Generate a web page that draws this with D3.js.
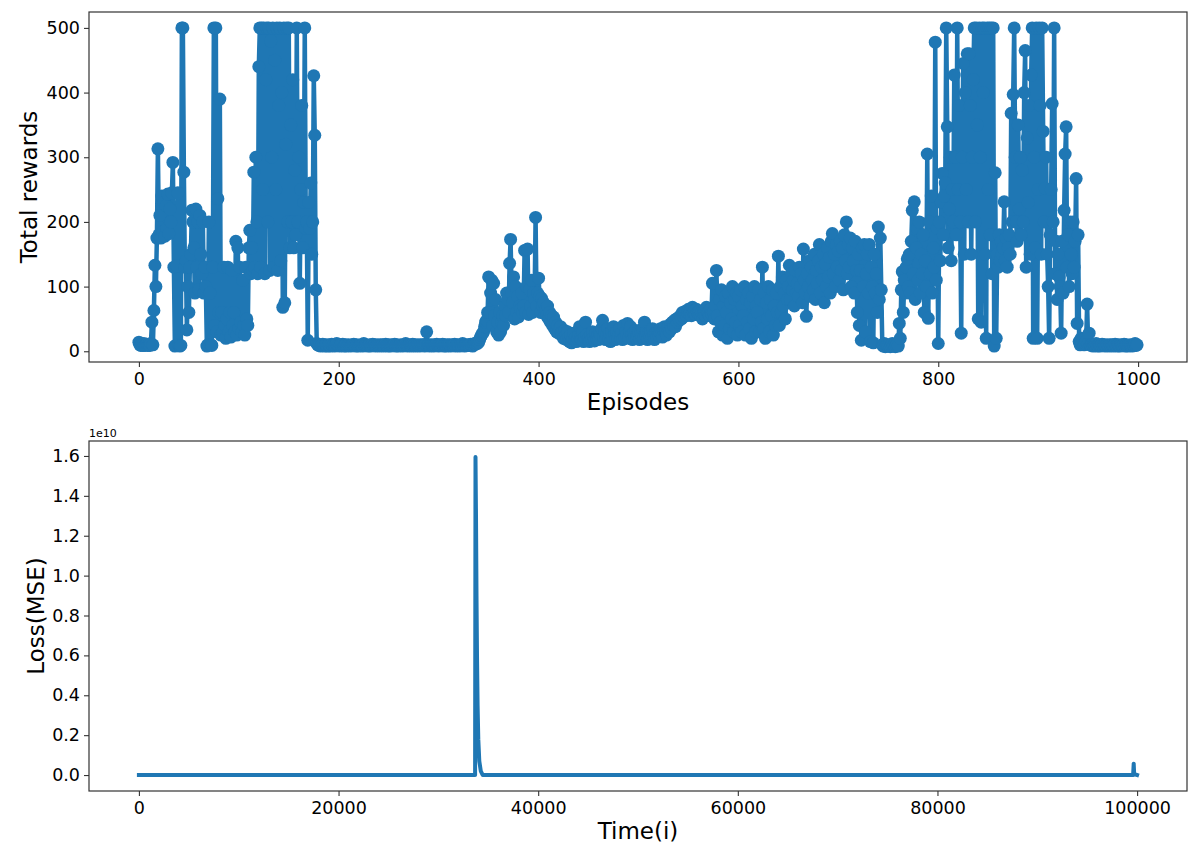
<!DOCTYPE html>
<html>
<head>
<meta charset="utf-8">
<script src="https://cdn.jsdelivr.net/npm/d3@7"></script>
<style>
  body { margin: 0; background: #fff; }
  svg { display: block; }
  text { font-family: "DejaVu Sans", sans-serif; fill: #000; }
</style>
</head>
<body>
<svg id="chart" width="1200" height="857"></svg>
<script>
// total reward per episode (index = episode)
var rewards = [
  // 0-99
  14, 10, 9, 11, 9, 12, 9, 10, 11, 9,
  10, 9, 12, 45, 10, 63, 133, 100, 175, 313,
  180, 210, 175, 240, 185, 230, 178, 225, 190, 243,
  182, 220, 200, 245, 292, 130, 8, 9, 132, 245,
  10, 8, 9, 500, 500, 277, 130, 140, 33, 100,
  60, 130, 150, 218, 200, 160, 90, 220, 130, 200,
  95, 210, 150, 120, 200, 90, 130, 100, 8, 10,
  200, 90, 10, 9, 130, 500, 40, 500, 30, 236,
  60, 390, 25, 60, 30, 130, 40, 20, 50, 130,
  30, 60, 22, 125, 40, 60, 30, 170, 25, 160,
  // 100-199
  35, 130, 45, 30, 110, 40, 25, 130, 50, 40,
  160, 187, 120, 160, 125, 277, 130, 300, 200, 120,
  440, 500, 130, 500, 250, 500, 120, 420, 500, 200,
  500, 125, 480, 300, 500, 130, 450, 250, 500, 125,
  380, 500, 140, 400, 68, 500, 75, 320, 500, 200,
  500, 160, 350, 200, 420, 160, 280, 180, 500, 200,
  300, 105, 250, 380, 160, 230, 500, 190, 200, 17,
  230, 190, 260, 150, 200, 426, 334, 95, 12, 10,
  9, 10, 8, 9, 11, 9, 8, 10, 9, 8,
  10, 9, 8, 11, 9, 10, 8, 9, 12, 9,
  // 200-299
  9, 8, 10, 9, 11, 8, 9, 10, 8, 9,
  10, 9, 8, 9, 10, 11, 9, 8, 10, 9,
  8, 9, 10, 9, 8, 12, 9, 10, 9, 8,
  9, 10, 8, 9, 11, 9, 10, 8, 9, 10,
  9, 8, 10, 9, 10, 8, 9, 11, 9, 8,
  10, 9, 8, 10, 9, 9, 11, 8, 10, 9,
  8, 9, 10, 9, 8, 10, 9, 12, 9, 8,
  9, 10, 9, 8, 11, 9, 10, 8, 9, 10,
  9, 8, 10, 9, 10, 9, 8, 11, 30, 9,
  10, 8, 9, 10, 9, 8, 10, 9, 11, 9,
  // 300-399
  8, 10, 9, 9, 11, 8, 10, 9, 8, 10,
  9, 10, 8, 9, 10, 9, 11, 8, 9, 10,
  9, 8, 10, 9, 12, 9, 8, 10, 9, 9,
  10, 9, 11, 9, 8, 10, 12, 11, 13, 12,
  14, 18, 22, 25, 28, 30, 38, 45, 48, 60,
  115, 60, 90, 110, 40, 105, 55, 80, 30, 45,
  25, 60, 30, 45, 55, 40, 70, 55, 90, 80,
  60, 136, 173, 90, 75, 115, 50, 100, 60, 85,
  53, 70, 65, 90, 60, 70, 156, 60, 100, 158,
  57, 95, 70, 110, 60, 90, 80, 207, 70, 90,
  // 400-499
  113, 85, 60, 82, 70, 75, 60, 65, 55, 70,
  50, 60, 45, 55, 40, 53, 35, 45, 30, 40,
  28, 35, 38, 25, 30, 20, 32, 24, 18, 30,
  22, 15, 25, 13, 20, 28, 18, 22, 15, 20,
  25, 38, 20, 18, 30, 15, 22, 45, 25, 18,
  20, 15, 25, 18, 30, 22, 16, 28, 20, 24,
  18, 30, 25, 35, 48, 22, 30, 18, 25, 35,
  20, 28, 15, 30, 22, 38, 25, 18, 30, 20,
  25, 35, 20, 28, 18, 40, 22, 30, 25, 43,
  20, 30, 38, 25, 18, 28, 22, 32, 20, 25,
  // 500-599
  30, 18, 28, 22, 35, 20, 45, 25, 30, 18,
  28, 22, 30, 20, 35, 25, 18, 28, 22, 30,
  25, 30, 35, 28, 22, 32, 38, 30, 25, 35,
  38, 30, 42, 35, 45, 40, 48, 38, 50, 45,
  52, 48, 55, 50, 60, 53, 58, 62, 55, 60,
  65, 58, 62, 55, 68, 60, 63, 57, 65, 60,
  58, 62, 55, 60, 50, 58, 62, 55, 68, 60,
  60, 55, 65, 58, 105, 60, 50, 70, 125, 55,
  30, 80, 45, 95, 25, 70, 40, 85, 60, 20,
  90, 35, 75, 50, 100, 30, 80, 45, 90, 25,
  // 600-699
  85, 40, 95, 30, 70, 55, 100, 25, 80, 45,
  90, 35, 75, 20, 85, 50, 100, 30, 70, 60,
  95, 30, 80, 45, 130, 35, 90, 20, 75, 50,
  100, 30, 80, 55, 95, 25, 70, 40, 90, 60,
  147, 40, 100, 60, 115, 70, 90, 50, 110, 80,
  100, 133, 80, 120, 95, 110, 70, 125, 90, 105,
  85, 130, 100, 120, 75, 158, 110, 90, 54, 120,
  100, 140, 85, 130, 110, 95, 150, 80, 125, 105,
  140, 165, 90, 130, 110, 150, 75, 135, 100, 160,
  115, 145, 90, 170, 182, 120, 150, 100, 165, 130,
  // 700-799
  155, 110, 170, 125, 160, 95, 180, 140, 200, 120,
  165, 130, 175, 100, 160, 140, 90, 170, 125, 60,
  150, 40, 125, 17, 160, 100, 165, 30, 120, 150,
  90, 165, 15, 130, 100, 13, 150, 90, 120, 60,
  192, 80, 175, 95, 10, 8, 12, 7, 10, 9,
  8, 10, 7, 9, 12, 8, 10, 7, 9, 11,
  8, 43, 20, 95, 123, 60, 110, 90, 130, 143,
  100, 150, 90, 170, 218, 120, 231, 80, 160, 190,
  110, 200, 90, 150, 120, 180, 60, 140, 100, 305,
  51, 200, 120, 240, 90, 160, 130, 478, 110, 190,
  // 800-899
  12, 200, 140, 230, 275, 180, 240, 260, 500, 347,
  160, 220, 300, 140, 250, 200, 427, 300, 180, 500,
  250, 380, 200, 28, 300, 445, 150, 400, 250, 460,
  200, 460, 380, 150, 300, 420, 500, 200, 500, 350,
  50, 500, 300, 45, 500, 400, 500, 150, 20, 500,
  250, 500, 180, 500, 120, 500, 8, 276, 20, 150,
  130, 180, 140, 170, 150, 160, 231, 140, 175, 130,
  160, 180, 150, 368, 200, 397, 500, 300, 200, 170,
  350, 220, 300, 180, 280, 200, 400, 465, 130, 330,
  230, 380, 150, 427, 500, 20, 300, 160, 500, 20,
  // 900-999
  250, 500, 380, 150, 500, 340, 200, 252, 300, 150,
  100, 20, 180, 250, 383, 200, 500, 120, 170, 80,
  150, 115, 100, 28, 170, 90, 218, 305, 347, 130,
  180, 100, 200, 150, 120, 200, 130, 170, 267, 43,
  180, 15, 10, 20, 12, 18, 10, 12, 15, 73,
  12, 28, 10, 9, 11, 8, 10, 9, 12, 8,
  9, 10, 8, 9, 11, 9, 10, 8, 9, 10,
  9, 8, 10, 9, 10, 8, 9, 11, 9, 8,
  10, 9, 8, 10, 9, 9, 11, 8, 10, 9,
  8, 9, 10, 9, 8, 10, 9, 12, 9, 10
]
var episodeTicks = [0, 200, 400, 600, 800, 1000]
var rewardTicks = [0, 100, 200, 300, 400, 500]

// loss over training steps, key points of the trace (flat zero elsewhere)
var lossTime = [0, 33680, 33720, 33770, 33820, 33870, 33930, 34000, 34100, 34250, 34450, 99600, 99660, 99700, 99760, 99999]
var lossValue = [0, 0, 1.595e10, 1.3e10, 0.9e10, 0.6e10, 0.35e10, 0.18e10, 0.07e10, 0.02e10, 0, 0, 0.057e10, 0.012e10, 0.004e10, 0]
var timeTicks = [0, 20000, 40000, 60000, 80000, 100000]
var lossTicks = [0, 0.2e10, 0.4e10, 0.6e10, 0.8e10, 1.0e10, 1.2e10, 1.4e10, 1.6e10]

var blue = '#1f77b4'
var svg = d3.select('#chart')

var left = 89, right = 1187
var top1 = 12, bottom1 = 362
var top2 = 441, bottom2 = 791

// top panel
var x1 = d3.scaleLinear().domain([-49.95, 1048.95]).range([left, right])
var y1 = d3.scaleLinear().domain([-16.6, 524.6]).range([bottom1, top1])

// bottom panel
var x2 = d3.scaleLinear().domain([-4999.95, 104998.95]).range([left, right])
var y2 = d3.scaleLinear().domain([-0.08e10, 1.675e10]).range([bottom2, top2])

function styleAxis(g) {
  g.select('.domain').remove()
  g.selectAll('.tick line').attr('stroke', '#333').attr('stroke-width', 1.1)
  g.selectAll('.tick text')
   .attr('font-family', '"DejaVu Sans", sans-serif')
   .attr('font-size', 17.5)
   .attr('fill', '#000')
}

svg.append('g')
   .attr('transform', 'translate(0,' + bottom1 + ')')
   .call(d3.axisBottom(x1).tickValues(episodeTicks).tickSize(5).tickPadding(6).tickFormat(d3.format('d')))
   .call(styleAxis)

svg.append('g')
   .attr('transform', 'translate(' + left + ',0)')
   .call(d3.axisLeft(y1).tickValues(rewardTicks).tickSize(5).tickPadding(4).tickFormat(d3.format('d')))
   .call(styleAxis)

svg.append('g')
   .attr('transform', 'translate(0,' + bottom2 + ')')
   .call(d3.axisBottom(x2).tickValues(timeTicks).tickSize(5).tickPadding(6).tickFormat(d3.format('d')))
   .call(styleAxis)

svg.append('g')
   .attr('transform', 'translate(' + left + ',0)')
   .call(d3.axisLeft(y2).tickValues(lossTicks).tickSize(5).tickPadding(4).tickFormat(function(d) {
     return d3.format('.1f')(d / 1e10)
   }))
   .call(styleAxis)

// rewards line + markers
var rewardLine = d3.line()
                   .x(function(d, i) { return x1(i) })
                   .y(function(d) { return y1(d) })

svg.append('path')
   .datum(rewards)
   .attr('d', rewardLine)
   .attr('fill', 'none')
   .attr('stroke', blue)
   .attr('stroke-width', 4.5)
   .attr('stroke-linejoin', 'round')

svg.append('g')
   .selectAll('circle')
   .data(rewards)
   .enter()
   .append('circle')
   .attr('cx', function(d, i) { return x1(i) })
   .attr('cy', function(d) { return y1(d) })
   .attr('r', 6.5)
   .attr('fill', blue)

// loss line
var lossLine = d3.line()
                 .x(function(d) { return x2(d) })
                 .y(function(d, i) { return y2(lossValue[i]) })

svg.append('path')
   .datum(lossTime)
   .attr('d', lossLine)
   .attr('fill', 'none')
   .attr('stroke', blue)
   .attr('stroke-width', 4)
   .attr('stroke-linejoin', 'round')
   .attr('stroke-linecap', 'square')

// frames
;[[top1, bottom1], [top2, bottom2]].forEach(function(p) {
  svg.append('rect')
     .attr('x', left)
     .attr('y', p[0])
     .attr('width', right - left)
     .attr('height', p[1] - p[0])
     .attr('fill', 'none')
     .attr('stroke', '#333')
     .attr('stroke-width', 1.2)
})

// labels
svg.append('text')
   .attr('x', (left + right) / 2)
   .attr('y', 410)
   .attr('text-anchor', 'middle')
   .attr('font-size', 23)
   .text('Episodes')

svg.append('text')
   .attr('transform', 'translate(37,' + (top1 + bottom1) / 2 + ') rotate(-90)')
   .attr('text-anchor', 'middle')
   .attr('font-size', 23)
   .text('Total rewards')

svg.append('text')
   .attr('x', (left + right) / 2)
   .attr('y', 839)
   .attr('text-anchor', 'middle')
   .attr('font-size', 23)
   .text('Time(i)')

svg.append('text')
   .attr('transform', 'translate(44,' + (top2 + bottom2) / 2 + ') rotate(-90)')
   .attr('text-anchor', 'middle')
   .attr('font-size', 23)
   .text('Loss(MSE)')

svg.append('text')
   .attr('x', left)
   .attr('y', 437)
   .attr('font-size', 11)
   .text('1e10')
</script>
</body>
</html>
